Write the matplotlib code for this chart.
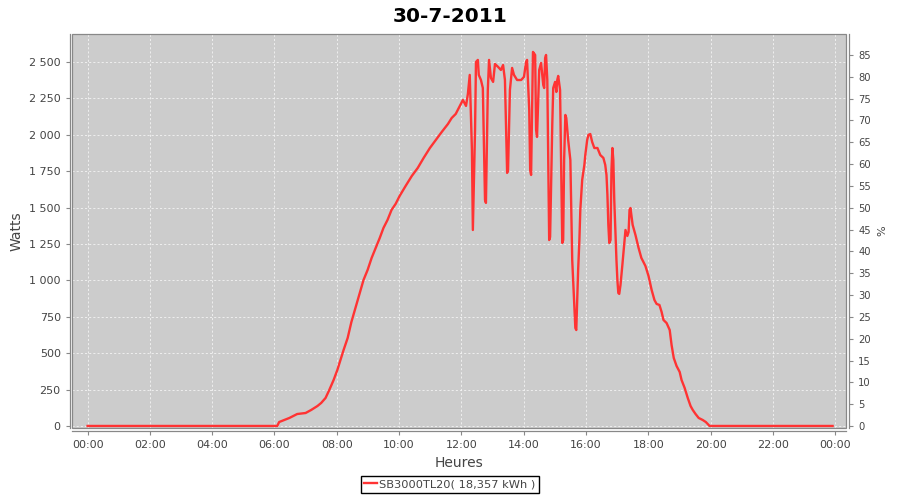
import matplotlib
matplotlib.use("Agg")
import matplotlib.pyplot as plt
from matplotlib.ticker import FuncFormatter
from matplotlib.patches import Rectangle

title = "30-7-2011"
series_name = "SB3000TL20( 18,357 kWh )"

hours = [0.0, 6.09, 6.15, 6.48, 6.73, 7.0, 7.18, 7.38, 7.5, 7.64, 7.76, 7.9, 8.02, 8.12,
         8.22, 8.35, 8.47, 8.6, 8.73, 8.86, 8.99, 9.12, 9.25, 9.38, 9.5, 9.63, 9.76, 9.89,
         10.02, 10.21, 10.41, 10.6, 10.79, 10.99, 11.18, 11.37, 11.57, 11.69, 11.82, 11.95,
         12.05, 12.15, 12.21, 12.27, 12.34, 12.37, 12.44, 12.47, 12.53, 12.56, 12.63, 12.69,
         12.76, 12.79, 12.85, 12.89, 12.95, 13.02, 13.08, 13.18, 13.27, 13.34, 13.4, 13.47,
         13.5, 13.56, 13.63, 13.69, 13.79, 13.92, 14.01, 14.08, 14.11, 14.18, 14.21, 14.24,
         14.3, 14.37, 14.4, 14.43, 14.5, 14.56, 14.63, 14.66, 14.69, 14.72, 14.76, 14.82,
         14.85, 14.92, 14.95, 15.01, 15.05, 15.08, 15.11, 15.17, 15.24, 15.27, 15.3, 15.34,
         15.37, 15.43, 15.5, 15.56, 15.62, 15.66, 15.69, 15.75, 15.79, 15.82, 15.88, 15.95,
         15.98, 16.04, 16.08, 16.14, 16.2, 16.27, 16.37, 16.46, 16.56, 16.62, 16.66, 16.69,
         16.72, 16.75, 16.79, 16.82, 16.85, 16.88, 16.91, 16.98, 17.01, 17.04, 17.07, 17.11,
         17.17, 17.24, 17.27, 17.33, 17.37, 17.4, 17.43, 17.5, 17.59, 17.69, 17.78, 17.91,
         18.01, 18.11, 18.2, 18.27, 18.36, 18.43, 18.49, 18.59, 18.69, 18.75, 18.82, 18.91,
         19.01, 19.07, 19.17, 19.27, 19.36, 19.43, 19.52, 19.62, 19.75, 19.85, 19.97, 23.92]

watts = [0, 0, 27, 55, 82, 89, 110, 137, 158, 192, 247, 316, 385, 453,
         522, 604, 714, 810, 907, 1003, 1071, 1154, 1223, 1291, 1360, 1415, 1484, 1525,
         1580, 1648, 1717, 1772, 1841, 1909, 1964, 2019, 2074, 2115, 2143, 2198,
         2239, 2198, 2280, 2411, 1896, 1346, 2033, 2500, 2514, 2411, 2376, 2321,
         1552, 1532, 2308, 2514, 2390, 2363, 2486, 2466, 2445, 2479, 2376, 1738,
         1758, 2308, 2459, 2411, 2376, 2376, 2397, 2500, 2514, 2170, 1758, 1724,
         2569, 2548, 2033, 1985, 2445, 2493, 2342, 2321, 2527, 2548, 2376, 1277,
         1298, 2074, 2321, 2363, 2294, 2376, 2404, 2308, 1257, 1277, 1827, 2136,
         2115, 1964, 1827, 1140, 865, 673, 659, 1071, 1277, 1484, 1690, 1793,
         1861, 1964, 1999, 2005, 1951, 1909, 1909, 1861, 1841, 1793, 1724, 1587,
         1381, 1257, 1277, 1758, 1909, 1827, 1552, 1140, 1003, 913, 907, 968,
         1106, 1277, 1346, 1305, 1332, 1484, 1497, 1381, 1312, 1223, 1154, 1099,
         1030, 934, 865, 838, 831, 783, 728, 707, 659, 556, 467, 412,
         371, 316, 261, 192, 137, 110, 82, 55, 41, 27, 0, 0]

x_ticks = [0, 2, 4, 6, 8, 10, 12, 14, 16, 18, 20, 22, 24]
x_labels = ["00:00", "02:00", "04:00", "06:00", "08:00", "10:00", "12:00",
            "14:00", "16:00", "18:00", "20:00", "22:00", "00:00"]
w_ticks = list(range(0, 2501, 250))
pct_ticks = list(range(0, 86, 5))

axis_gray = "#888888"
label_gray = "#444444"

fig = plt.figure(figsize=(9, 5), dpi=100)
ax = fig.add_axes([72/900, 1-428/500, (846-72)/900, (428-34)/500])
ax.set_facecolor("#cccccc")

ax.plot(hours, watts, color="#ff3333", lw=1.7, label=series_name, zorder=3)

ax.set_xlim(-0.50, 24.35)
ax.set_ylim(-14, 2692)
ax.set_xticks(x_ticks)
ax.set_xticklabels(x_labels)
ax.set_yticks(w_ticks)
ax.yaxis.set_major_formatter(FuncFormatter(lambda v, p: f"{int(v):,}".replace(",", " ")))
ax.grid(True, color="#f4f4f4", linestyle=(0, (2.5, 2.5)), linewidth=0.6)
ax.set_axisbelow(True)

for s in ["top", "right"]:
    ax.spines[s].set_visible(False)
ax.spines["left"].set_position(("outward", 1.6))
ax.spines["bottom"].set_position(("outward", 2.2))
for s in ["left", "bottom"]:
    ax.spines[s].set_color(axis_gray)
    ax.spines[s].set_linewidth(0.9)
ax.tick_params(axis="both", colors=axis_gray, labelcolor=label_gray, labelsize=8,
               length=3, width=0.8, direction="out")

ax.add_patch(Rectangle((0, 0), 1, 1, transform=ax.transAxes, fill=False,
                       edgecolor=axis_gray, lw=0.9, clip_on=False, zorder=5))

ax.set_xlabel("Heures", fontsize=10, color=label_gray, labelpad=4)
ax.set_ylabel("Watts", fontsize=10, color=label_gray, labelpad=4)

ax2 = ax.twinx()
ax2.set_ylim(-0.46, 89.8)
ax2.set_yticks(pct_ticks)
for s in ["top", "left", "bottom"]:
    ax2.spines[s].set_visible(False)
ax2.spines["right"].set_position(("outward", 2.2))
ax2.spines["right"].set_color(axis_gray)
ax2.spines["right"].set_linewidth(0.9)
ax2.tick_params(axis="y", colors=axis_gray, labelcolor=label_gray, labelsize=7.2,
                length=3, width=0.8, direction="out")
ax2.set_ylabel("%", fontsize=8, color=label_gray, labelpad=5)

fig.suptitle(title, fontsize=14.5, fontweight="bold", y=0.985)

leg = fig.legend(loc="lower center", bbox_to_anchor=(0.5, 0.003), fontsize=8.2,
                 frameon=True, fancybox=False, edgecolor="black", framealpha=1,
                 handlelength=1.1, handletextpad=0.2, borderpad=0.3)
leg.get_frame().set_linewidth(1.0)
for t in leg.get_texts():
    t.set_color(label_gray)

fig.savefig("out.png", dpi=100)
